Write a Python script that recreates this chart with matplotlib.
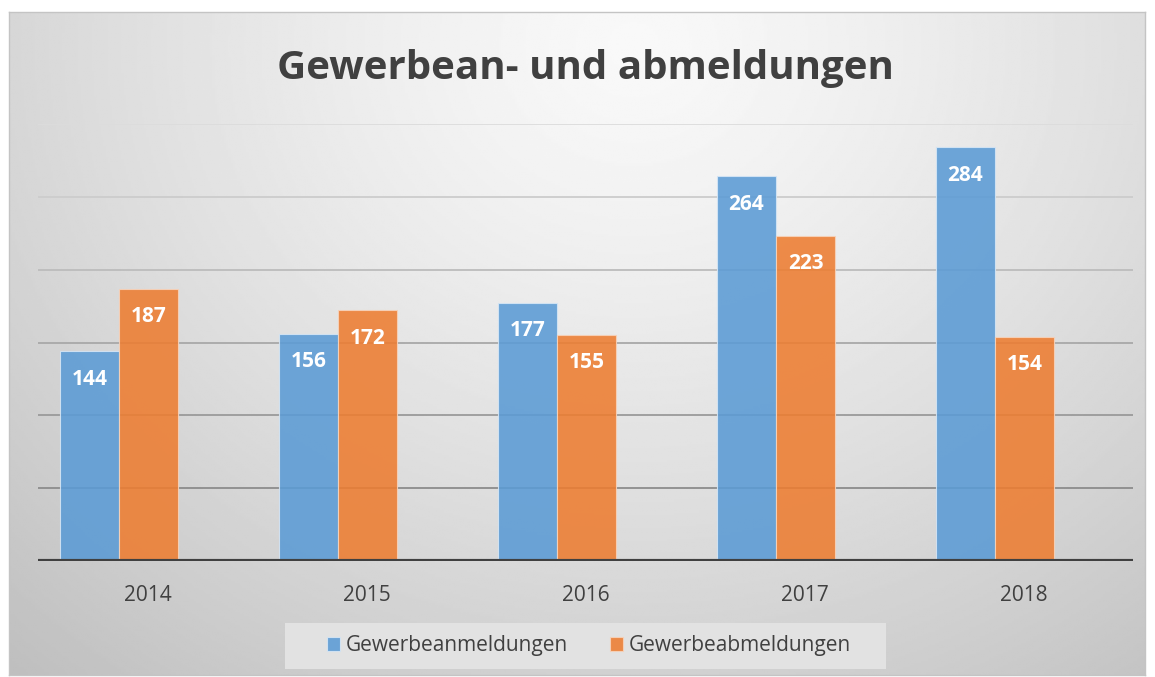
import matplotlib.pyplot as plt
from matplotlib.patches import Rectangle
import numpy as np

# Data
years = ['2014', '2015', '2016', '2017', '2018']
anmeldungen = [144, 156, 177, 264, 284]
abmeldungen = [187, 172, 155, 223, 154]
grid_levels = [50, 100, 150, 200, 250, 300]

W, H = 1155, 677
fig = plt.figure(figsize=(W / 100, H / 100), dpi=100)
fig.patch.set_facecolor('white')

# radial gradient background inside the chart frame
bx0, bx1, by0, by1 = 9, 1145, 12, 675
bg = fig.add_axes([bx0 / W, 1 - by1 / H, (bx1 - bx0) / W, (by1 - by0) / H])
yy, xx = np.mgrid[0:1:300j, 0:1:500j]
r = np.sqrt(((xx - 0.55) / 0.72) ** 2 + ((yy - 0.05) / 1.1) ** 2)
shade = 0.975 - 0.19 * np.clip(r, 0, 1.25) ** 1.3
bg.imshow(shade, cmap='gray', vmin=0, vmax=1, aspect='auto', extent=[0, 1, 1, 0])
bg.set_xticks([])
bg.set_yticks([])
for s in bg.spines.values():
    s.set_color('#c4c4c4')
    s.set_linewidth(1)

ax = fig.add_axes([38 / W, 1 - 561 / H, (1133 - 38) / W, (561 - 124) / H])
ax.patch.set_alpha(0)
x = np.arange(len(years))
w = 0.27

# gridlines, darker towards the bottom
grid_cols = ['#8c8c8c', '#9a9a9a', '#a8a8a8', '#bcbcbc', '#cccccc', '#dcdcdc']
for lvl, c in zip(grid_levels, grid_cols):
    ax.axhline(lvl, color=c, linewidth=1.3, zorder=1)

# bars sit a bit left of the category labels, as in the original
b1 = ax.bar(x - 0.265, anmeldungen, w, color='#5B9BD5', alpha=0.88,
            edgecolor='#d6e6f5', linewidth=0.8, zorder=2, label='Gewerbeanmeldungen')
b2 = ax.bar(x + 0.005, abmeldungen, w, color='#ED7D31', alpha=0.88,
            edgecolor='#f7d3bb', linewidth=0.8, zorder=2, label='Gewerbeabmeldungen')

for bars, vals in [(b1, anmeldungen), (b2, abmeldungen)]:
    for rect, v in zip(bars, vals):
        ax.annotate(str(v), (rect.get_x() + rect.get_width() / 2, v),
                    xytext=(0, -20), textcoords='offset points', ha='center', va='center',
                    color='white', fontsize=15, fontweight='bold', family='Open Sans', zorder=3)

ax.axhline(0, color='#404040', linewidth=3, zorder=4)
ax.set_xlim(-0.5, 4.5)
ax.set_ylim(0, 300)
ax.set_yticks([])
ax.set_xticks(x)
ax.set_xticklabels(years, fontsize=15, color='#404040', family='Open Sans')
ax.tick_params(axis='x', length=0, pad=17)
for s in ax.spines.values():
    s.set_visible(False)

fig.text(585 / W, 1 - 68 / H, 'Gewerbean- und abmeldungen', ha='center', va='center',
         fontsize=29, fontweight='bold', color='#404040', family='Open Sans')

# legend box
fig.patches.append(Rectangle((285 / W, 1 - 669 / H), (886 - 285) / W, 46 / H,
                             transform=fig.transFigure, facecolor='#e2e2e2',
                             edgecolor='none', zorder=5))
leg = fig.legend(handles=[b1, b2], loc='center', bbox_to_anchor=(589 / W, 1 - 646 / H),
                 ncol=2, frameon=False, handlelength=0.62, handleheight=0.62,
                 columnspacing=2.0, handletextpad=0.3, borderpad=0.2,
                 prop={'family': 'Open Sans', 'size': 15})
leg.set_zorder(6)
for t in leg.get_texts():
    t.set_color('#404040')

fig.savefig('out.png', dpi=100)
